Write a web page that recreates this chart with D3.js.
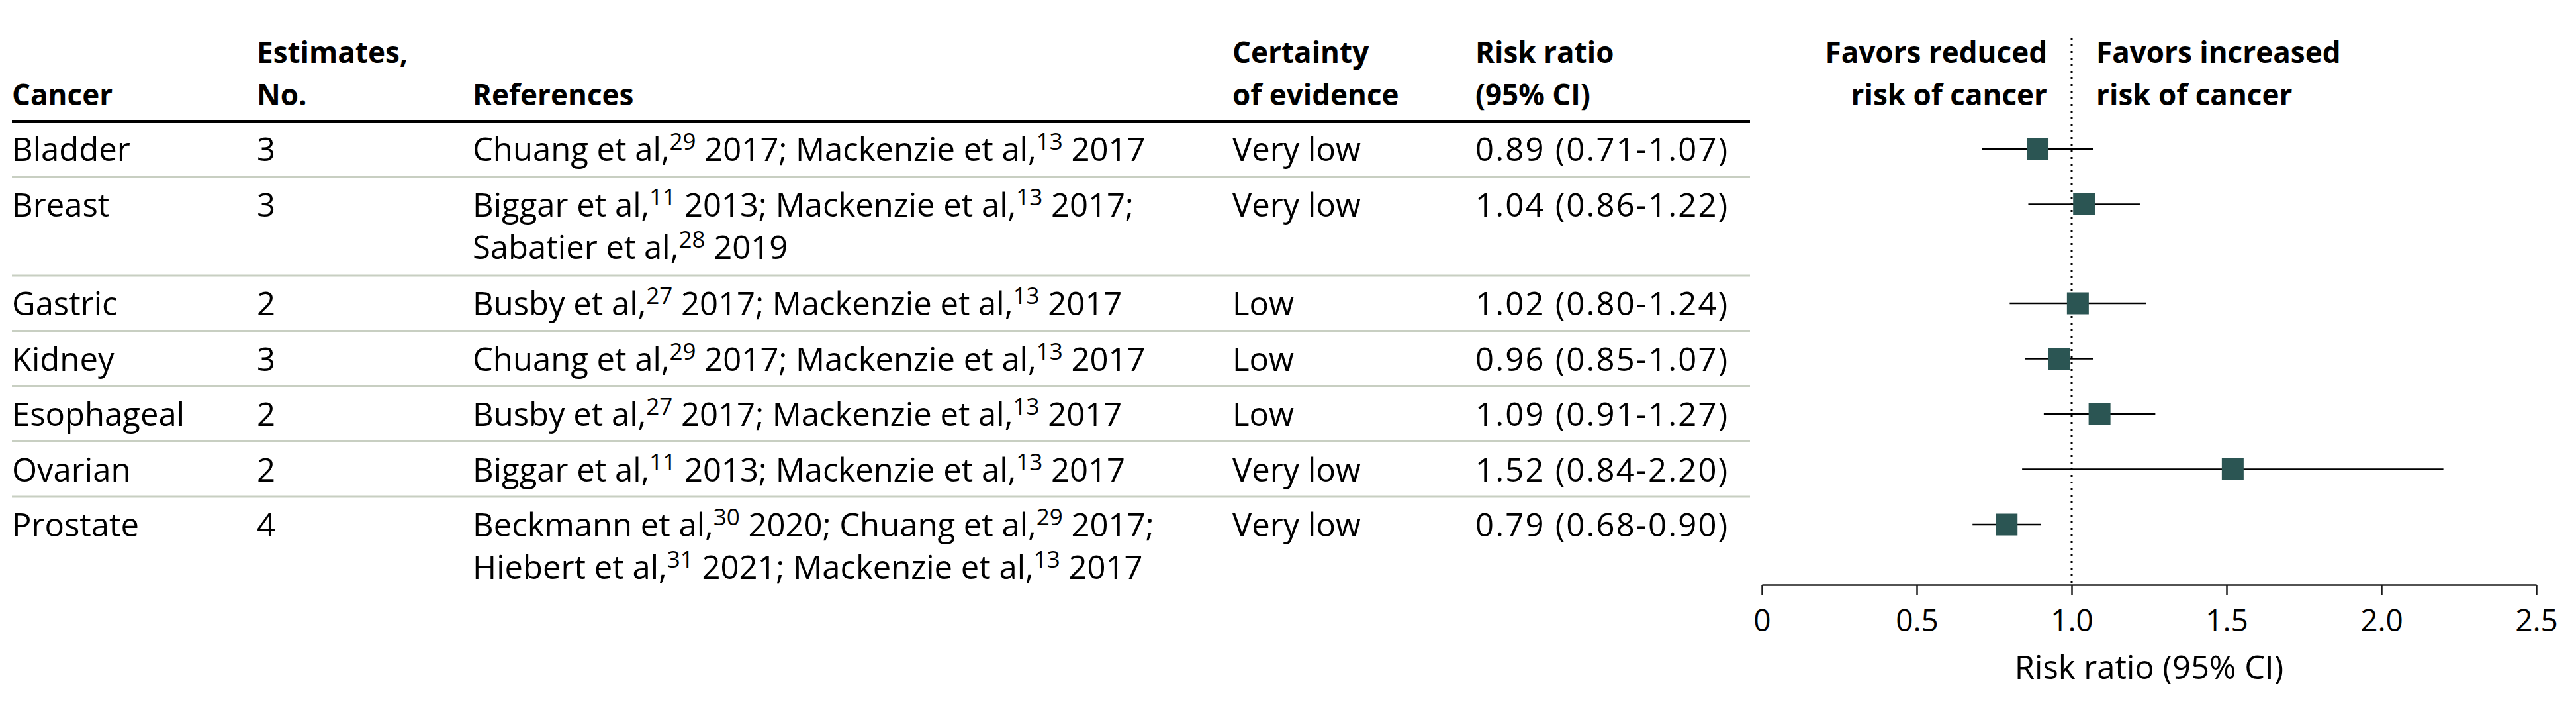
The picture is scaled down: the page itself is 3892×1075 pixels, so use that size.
<!DOCTYPE html>
<html>
<head>
<meta charset="utf-8">
<script src="https://cdn.jsdelivr.net/npm/d3@7"></script>
<style>
  body { margin: 0; background: #fff; }
  svg { display: block; font-family: "Open Sans", sans-serif; }
  .cell { font-size: 49px; fill: #000; }
  .cell.num { letter-spacing: 2.2px; }
  .head { font-size: 44px; font-weight: 700; fill: #000; }
  .axis text { font-size: 46px; font-family: "Open Sans", sans-serif; fill: #000; }
  .axis path, .axis line { stroke: #1a1a1a; stroke-width: 2.5; }
</style>
</head>
<body>
<div id="chart"></div>
<script>
// ---- data ----
const cancers = ['Bladder', 'Breast', 'Gastric', 'Kidney', 'Esophageal', 'Ovarian', 'Prostate'];
const estimates = [3, 3, 2, 3, 2, 2, 4];
// "^nn" marks a superscript reference number, "|" a line break
const references = [
    'Chuang et al,^29 2017; Mackenzie et al,^13 2017',
    'Biggar et al,^11 2013; Mackenzie et al,^13 2017;|Sabatier et al,^28 2019',
    'Busby et al,^27 2017; Mackenzie et al,^13 2017',
    'Chuang et al,^29 2017; Mackenzie et al,^13 2017',
    'Busby et al,^27 2017; Mackenzie et al,^13 2017',
    'Biggar et al,^11 2013; Mackenzie et al,^13 2017',
    'Beckmann et al,^30 2020; Chuang et al,^29 2017;|Hiebert et al,^31 2021; Mackenzie et al,^13 2017'
];
const certainty = ['Very low', 'Very low', 'Low', 'Low', 'Low', 'Very low', 'Very low'];
const riskRatio = [0.89, 1.04, 1.02, 0.96, 1.09, 1.52, 0.79];
const ciLower = [0.71, 0.86, 0.80, 0.85, 0.91, 0.84, 0.68];
const ciUpper = [1.07, 1.22, 1.24, 1.07, 1.27, 2.20, 0.90];
const xTicks = [0, 0.5, 1.0, 1.5, 2.0, 2.5];
const xTickLabels = ['0', '0.5', '1.0', '1.5', '2.0', '2.5'];

const headers = [
    {x: 18, lines: ['', 'Cancer']},
    {x: 388, lines: ['Estimates,', 'No.']},
    {x: 714, lines: ['', 'References']},
    {x: 1862, lines: ['Certainty', 'of evidence']},
    {x: 2229, lines: ['Risk ratio', '(95% CI)']}
];
const favorsLeft = ['Favors reduced', 'risk of cancer'];
const favorsRight = ['Favors increased', 'risk of cancer'];
const axisTitle = 'Risk ratio (95% CI)';

/**
 * Forest plot with a table of studies on its left.
 */
class ForestTable {

    width; height;
    svg; tableGroup; plotGroup;
    x;
    rows;

    constructor(container, width, height) {
        this.width = width;
        this.height = height;
        this.svg = d3.select(container).append('svg')
            .attr('width', width)
            .attr('height', height);
        this.svg.append('rect').attr('width', width).attr('height', height).attr('fill', '#fff');
        this.tableGroup = this.svg.append('g').classed('table', true);
        this.plotGroup = this.svg.append('g').classed('plot', true);

        this.x = d3.scaleLinear().domain([0, 2.5]).range([2662, 3832]);
    }

    // layout of the rows: tops depend on how many text lines each row has
    #layoutRows() {
        const top0 = 183, rowH = 83.5, extraLine = 66;
        const heights = references.map(r => rowH + extraLine * (r.split('|').length - 1));
        const tops = [top0, ...d3.cumsum(heights).map(h => top0 + h)].slice(0, cancers.length);
        this.rows = cancers.map((c, i) => ({
            cancer: c,
            est: estimates[i],
            refs: references[i].split('|'),
            cert: certainty[i],
            rr: riskRatio[i], lo: ciLower[i], hi: ciUpper[i],
            top: tops[i]
        }));
    }

    // writes a line that may hold ^nn superscripts
    #refLine(sel, text) {
        const parts = text.split(/\^(\d+)/);
        parts.forEach((p, k) => {
            if (k % 2 === 1) {
                sel.append('tspan').attr('dy', -17).attr('font-size', 35).text(p);
            } else if (p.length) {
                sel.append('tspan').attr('dy', k === 0 ? 0 : 17).text(p);
            }
        });
    }

    #renderHeader() {
        const g = this.tableGroup;
        headers.forEach(h => {
            h.lines.forEach((line, j) => {
                if (!line) return;
                g.append('text').classed('head', true)
                    .attr('x', h.x).attr('y', 95 + j * 64).text(line);
            });
        });
        g.append('line')
            .attr('x1', 18).attr('x2', 2644).attr('y1', 183).attr('y2', 183)
            .attr('stroke', '#000').attr('stroke-width', 4);

        const x1 = this.x(1);
        favorsLeft.forEach((line, j) => {
            this.plotGroup.append('text').classed('head', true)
                .attr('x', x1 - 37).attr('y', 95 + j * 64)
                .attr('text-anchor', 'end').text(line);
        });
        favorsRight.forEach((line, j) => {
            this.plotGroup.append('text').classed('head', true)
                .attr('x', x1 + 37).attr('y', 95 + j * 64).text(line);
        });
    }

    #renderRows() {
        const fmt = d3.format('.2f');
        const rowG = this.tableGroup.selectAll('g.row')
            .data(this.rows)
            .join('g')
            .classed('row', true)
            .attr('transform', d => `translate(0,${d.top})`);

        // separators between rows
        rowG.filter((d, i) => i > 0).append('line')
            .attr('x1', 18).attr('x2', 2644)
            .attr('stroke', '#c8cfc2').attr('stroke-width', 3);

        rowG.append('text').classed('cell', true).attr('x', 18).attr('y', 60).text(d => d.cancer);
        rowG.append('text').classed('cell', true).attr('x', 388).attr('y', 60).text(d => d.est);
        rowG.append('text').classed('cell', true).attr('x', 1862).attr('y', 60).text(d => d.cert);
        rowG.append('text').classed('cell num', true).attr('x', 2229).attr('y', 60)
            .text(d => `${fmt(d.rr)} (${fmt(d.lo)}-${fmt(d.hi)})`);

        const self = this;
        rowG.each(function(d) {
            d.refs.forEach((line, j) => {
                const t = d3.select(this).append('text').classed('cell', true)
                    .attr('x', 714).attr('y', 60 + j * 64);
                self.#refLine(t, line);
            });
        });
    }

    #renderPlot() {
        const g = this.plotGroup;
        const axisY = 883;

        // reference line at 1.0
        g.append('line')
            .attr('x1', this.x(1)).attr('x2', this.x(1))
            .attr('y1', 57).attr('y2', axisY)
            .attr('stroke', '#000').attr('stroke-width', 3)
            .attr('stroke-dasharray', '3,7');

        const pts = g.selectAll('g.est')
            .data(this.rows)
            .join('g')
            .classed('est', true)
            .attr('transform', d => `translate(0,${d.top + 42})`);
        pts.append('line')
            .attr('x1', d => this.x(d.lo)).attr('x2', d => this.x(d.hi))
            .attr('stroke', '#000').attr('stroke-width', 2.5);
        pts.append('rect')
            .attr('x', d => this.x(d.rr) - 16.5).attr('y', -16.5)
            .attr('width', 33).attr('height', 33)
            .attr('fill', '#2b5553');

        const axis = d3.axisBottom(this.x)
            .tickValues(xTicks)
            .tickFormat((d, i) => xTickLabels[i])
            .tickSize(16)
            .tickSizeOuter(0)
            .tickPadding(21);
        g.append('g').classed('axis', true)
            .attr('transform', `translate(0,${axisY})`)
            .call(axis)
            .call(s => s.selectAll('text').attr('font-size', null));

        g.append('text').classed('cell', true)
            .attr('x', this.x(1.25)).attr('y', 1025)
            .attr('text-anchor', 'middle').text(axisTitle);
    }

    render() {
        this.#layoutRows();
        this.#renderHeader();
        this.#renderRows();
        this.#renderPlot();
        return this;
    }
}

new ForestTable('#chart', 3892, 1075).render();
</script>
</body>
</html>
